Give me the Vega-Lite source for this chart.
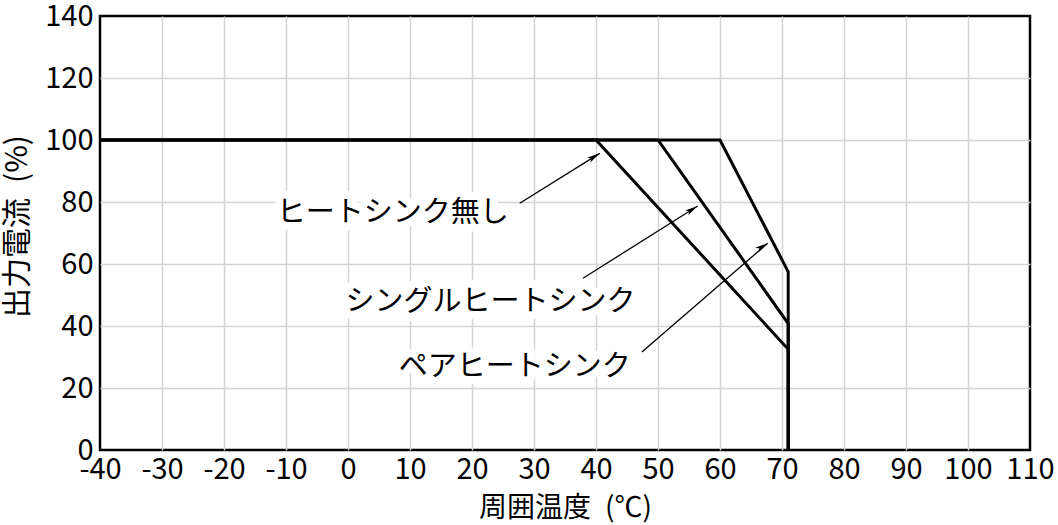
{
  "$schema": "https://vega.github.io/schema/vega-lite/v6.json",
  "width": 930,
  "height": 434,
  "autosize": "none",
  "padding": {"left": 100, "top": 16, "right": 28, "bottom": 75},
  "background": "white",
  "config": {
    "view": {"stroke": "black", "strokeWidth": 2.5},
    "font": "Noto Sans CJK JP"
  },
  "resolve": {"axis": {"x": "independent", "y": "independent"}},
  "datasets": {
    "curves": [
      {"series": "ヒートシンク無し", "step": 1, "temp": -40, "out": 100},
      {"series": "ヒートシンク無し", "step": 2, "temp": 40, "out": 100},
      {"series": "ヒートシンク無し", "step": 3, "temp": 71, "out": 32.5},
      {"series": "ヒートシンク無し", "step": 4, "temp": 71, "out": 0},
      {"series": "シングルヒートシンク", "step": 1, "temp": -40, "out": 100},
      {"series": "シングルヒートシンク", "step": 2, "temp": 50, "out": 100},
      {"series": "シングルヒートシンク", "step": 3, "temp": 71, "out": 40.8},
      {"series": "シングルヒートシンク", "step": 4, "temp": 71, "out": 0},
      {"series": "ペアヒートシンク", "step": 1, "temp": -40, "out": 100},
      {"series": "ペアヒートシンク", "step": 2, "temp": 60, "out": 100},
      {"series": "ペアヒートシンク", "step": 3, "temp": 71, "out": 57.5},
      {"series": "ペアヒートシンク", "step": 4, "temp": 71, "out": 0}
    ],
    "arrows": [
      {"arrow": "a1", "x1": 27.7, "y1": 79.6, "x2": 40.6, "y2": 95.7},
      {"arrow": "a2", "x1": 37.9, "y1": 55.4, "x2": 56.4, "y2": 78.7},
      {"arrow": "a3", "x1": 47.4, "y1": 31.6, "x2": 67.7, "y2": 66.7}
    ],
    "labels": [
      {"label": "ヒートシンク無し", "tx": 7.2, "ty": 76.6},
      {"label": "シングルヒートシンク", "tx": 23.0, "ty": 47.8},
      {"label": "ペアヒートシンク", "tx": 26.9, "ty": 26.8}
    ]
  },
  "layer": [
    {
      "data": {"name": "arrows"},
      "mark": {"type": "rule", "color": "black", "strokeWidth": 1.3},
      "encoding": {
        "x": {
          "field": "x1", "type": "quantitative",
          "scale": {"domain": [-40, 110], "nice": false, "zero": false},
          "axis": {
            "orient": "bottom",
            "values": [-30, -20, -10, 0, 10, 20, 30, 40, 50, 60, 70, 80, 90, 100],
            "grid": true, "gridColor": "#d4d4d4", "gridWidth": 1.5,
            "ticks": false, "domain": false, "labels": false, "title": null
          }
        },
        "y": {
          "field": "y1", "type": "quantitative",
          "scale": {"domain": [0, 140], "nice": false},
          "axis": {
            "orient": "left",
            "values": [20, 40, 60, 80, 100, 120],
            "grid": true, "gridColor": "#d4d4d4", "gridWidth": 1.5,
            "ticks": false, "domain": false, "labels": false, "title": null
          }
        },
        "x2": {"field": "x2"},
        "y2": {"field": "y2"}
      }
    },
    {
      "data": {"name": "curves"},
      "mark": {"type": "line", "color": "black", "strokeWidth": 3, "strokeJoin": "miter"},
      "encoding": {
        "x": {
          "field": "temp", "type": "quantitative",
          "axis": {
            "orient": "bottom",
            "values": [-40, -30, -20, -10, 0, 10, 20, 30, 40, 50, 60, 70, 80, 90, 100, 110],
            "labelExpr": "'' + datum.value",
            "grid": false, "ticks": false, "domain": false,
            "labelFontSize": 29, "labelColor": "black", "labelPadding": 5,
            "labelOverlap": false, "labelFlush": false, "labelBound": false,
            "title": "周囲温度\u2002(℃)", "titleFontSize": 28, "titleFontWeight": "normal",
            "titleColor": "black", "titleBaseline": "middle", "titleY": 58
          }
        },
        "y": {
          "field": "out", "type": "quantitative",
          "axis": {
            "orient": "left",
            "values": [0, 20, 40, 60, 80, 100, 120, 140],
            "grid": false, "ticks": false, "domain": false,
            "labelFontSize": 29, "labelColor": "black", "labelPadding": 7,
            "labelOverlap": false, "labelFlush": false, "labelBound": false,
            "title": "出力電流\u2002(%)", "titleFontSize": 30, "titleFontWeight": "normal",
            "titleColor": "black", "titleAngle": 270, "titleBaseline": "middle",
            "titleAlign": "center", "titleX": -83, "titleY": 210
          }
        },
        "detail": {"field": "series"},
        "order": {"field": "step", "type": "quantitative"}
      }
    },
    {
      "data": {"name": "arrows"},
      "mark": {"type": "point", "filled": true, "color": "black", "opacity": 1, "size": 676,
               "shape": "M0,0L0.22,1L0,0.75L-0.22,1Z"},
      "encoding": {
        "x": {"field": "x2", "type": "quantitative", "axis": null},
        "y": {"field": "y2", "type": "quantitative", "axis": null},
        "angle": {"field": "arrow", "type": "nominal",
                  "scale": {"domain": ["a1", "a2", "a3"], "range": [58, 58, 49]}, "legend": null}
      }
    },
    {
      "data": {"name": "labels"},
      "mark": {"type": "text", "fontSize": 29, "align": "center", "baseline": "middle",
               "color": "white", "stroke": "white", "strokeWidth": 16, "strokeJoin": "round"},
      "encoding": {
        "x": {"field": "tx", "type": "quantitative", "axis": null},
        "y": {"field": "ty", "type": "quantitative", "axis": null},
        "text": {"field": "label"}
      }
    },
    {
      "data": {"name": "labels"},
      "mark": {"type": "text", "fontSize": 29, "align": "center", "baseline": "middle", "color": "black"},
      "encoding": {
        "x": {"field": "tx", "type": "quantitative", "axis": null},
        "y": {"field": "ty", "type": "quantitative", "axis": null},
        "text": {"field": "label"}
      }
    }
  ]
}
